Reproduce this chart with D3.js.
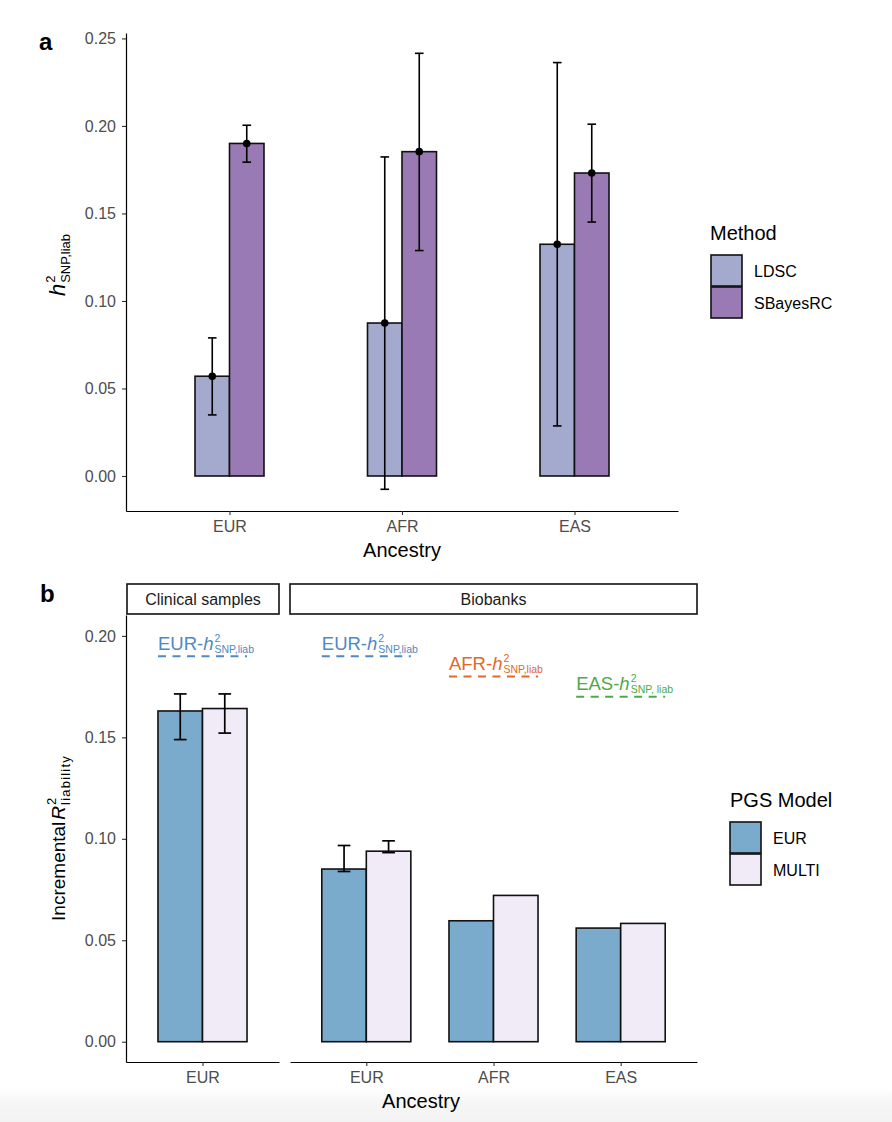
<!DOCTYPE html>
<html>
<head>
<meta charset="utf-8">
<script src="https://cdn.jsdelivr.net/npm/d3@7"></script>
<style>
  html, body { margin: 0; padding: 0; background: #fff; }
  svg { display: block; font-family: "Liberation Sans", Arial, Helvetica, sans-serif; }
</style>
</head>
<body>
<svg id="chart" width="892" height="1122"></svg>
<script>
// ---------------- DATA ----------------
// Panel a
const ancestriesA = ["EUR", "AFR", "EAS"];
const methods = ["LDSC", "SBayesRC"];
const ldscEst = [0.057, 0.0874, 0.1324];
const ldscLo  = [0.0349, -0.0076, 0.0286];
const ldscHi  = [0.0789, 0.1823, 0.2362];
const sbrcEst = [0.190, 0.1853, 0.1731];
const sbrcLo  = [0.1793, 0.1288, 0.1451];
const sbrcHi  = [0.2004, 0.2415, 0.2010];
const ticksA  = [0.00, 0.05, 0.10, 0.15, 0.20, 0.25];

// Panel b
const facetNames   = ["Clinical samples", "Biobanks"];
const clinicalAnc  = ["EUR"];
const biobankAnc   = ["EUR", "AFR", "EAS"];
const pgsModels    = ["EUR", "MULTI"];
const clinEur      = [0.1630];
const clinEurLo    = [0.1489];
const clinEurHi    = [0.1714];
const clinMulti    = [0.1642];
const clinMultiLo  = [0.1521];
const clinMultiHi  = [0.1714];
const bioEur       = [0.0851, 0.0596, 0.0560];
const bioEurLo     = [0.0839, null, null];
const bioEurHi     = [0.0967, null, null];
const bioMulti     = [0.0939, 0.0721, 0.0583];
const bioMultiLo   = [0.0932, null, null];
const bioMultiHi   = [0.0990, null, null];
const clinRefH2    = [0.190];
const bioRefH2     = [0.190, 0.180, 0.170];
const refLabelPrefix = ["EUR-", "AFR-", "EAS-"];
const refLabelSub    = ["SNP,liab", "SNP,liab", "SNP, liab"];
const ticksB  = [0.00, 0.05, 0.10, 0.15, 0.20];

// ---------------- STYLE ----------------
const methodColors = { LDSC: "#A3AACD", SBayesRC: "#9A7AB4" };
const pgsColors = { EUR: "#7AABCD", MULTI: "#F0EBF6" };
const refColors = ["#4E89C4", "#E2692B", "#4DAA4A"];
const tickColor = "#4d4d4d";
const font = '"Liberation Sans", Arial, Helvetica, sans-serif';

const svg = d3.select("#chart");

// subtle gray band at the bottom of the picture
const defs = svg.append("defs");
const grad = defs.append("linearGradient").attr("id", "band").attr("x1", 0).attr("y1", 0).attr("x2", 0).attr("y2", 1);
grad.append("stop").attr("offset", "0%").attr("stop-color", "#ffffff");
grad.append("stop").attr("offset", "40%").attr("stop-color", "#f6f6f6");
grad.append("stop").attr("offset", "100%").attr("stop-color", "#f3f3f3");
svg.append("rect").attr("x", 0).attr("y", 1088).attr("width", 892).attr("height", 34).attr("fill", "url(#band)");

// helper: math-like label with prefix, italic base, stacked sup/sub
function mathText(parent, o) {
  const g = parent.append("g").attr("transform", `translate(${o.x},${o.y}) rotate(${o.rotate || 0})`);
  const inner = g.append("g");
  let w = 0;
  if (o.prefix) {
    const t = inner.append("text").attr("x", 0).attr("y", 0).attr("font-size", o.size).attr("fill", o.color).text(o.prefix);
    w += t.node().getComputedTextLength() + (o.gap || 0);
  }
  const b = inner.append("text").attr("x", w).attr("y", 0).attr("font-size", o.size).attr("font-style", "italic").attr("fill", o.color).text(o.base);
  w += b.node().getComputedTextLength() + 1;
  const sp = inner.append("text").attr("x", w).attr("y", -o.supShift).attr("font-size", o.scriptSize).attr("fill", o.color).text(o.sup);
  const sb = inner.append("text").attr("x", w).attr("y", o.subShift).attr("font-size", o.scriptSize).attr("fill", o.color)
    .attr("letter-spacing", o.subSpacing || 0).text(o.sub);
  w += Math.max(sp.node().getComputedTextLength(), sb.node().getComputedTextLength());
  if (o.anchor === "middle") inner.attr("transform", `translate(${-w / 2},0)`);
  return g;
}

function styleAxis(g) {
  g.select(".domain").attr("stroke", "#000").attr("stroke-width", 1.2);
  g.selectAll(".tick line").attr("stroke", "#333").attr("stroke-width", 1.1);
  g.selectAll(".tick text").attr("fill", tickColor).attr("font-size", 16).attr("font-family", font);
}

// =============== PANEL A ===============
const yA = d3.scaleLinear().domain([-0.02, 0.2531]).range([511, 33]);
const xA = d3.scalePoint().domain(ancestriesA).range([126, 678]).padding(0.6);
const bwA = xA.step() * 0.2;
const capA = xA.step() * 0.05;

const dataA = [];
ancestriesA.forEach((a, i) => {
  dataA.push({ anc: a, method: "LDSC", est: ldscEst[i], lo: ldscLo[i], hi: ldscHi[i], off: -1 });
  dataA.push({ anc: a, method: "SBayesRC", est: sbrcEst[i], lo: sbrcLo[i], hi: sbrcHi[i], off: 0 });
});

const gA = svg.append("g");
gA.selectAll("rect.bar").data(dataA).join("rect")
  .attr("class", "bar")
  .attr("x", d => xA(d.anc) + d.off * bwA)
  .attr("width", bwA)
  .attr("y", d => yA(d.est))
  .attr("height", d => yA(0) - yA(d.est))
  .attr("fill", d => methodColors[d.method])
  .attr("stroke", "#111").attr("stroke-width", 1.6);

const errA = gA.selectAll("g.err").data(dataA).join("g").attr("class", "err")
  .attr("transform", d => `translate(${xA(d.anc) + d.off * bwA + bwA / 2},0)`);
errA.append("line").attr("x1", 0).attr("x2", 0).attr("y1", d => yA(d.lo)).attr("y2", d => yA(d.hi)).attr("stroke", "#000").attr("stroke-width", 1.6);
errA.append("line").attr("x1", -capA / 2).attr("x2", capA / 2).attr("y1", d => yA(d.hi)).attr("y2", d => yA(d.hi)).attr("stroke", "#000").attr("stroke-width", 1.6);
errA.append("line").attr("x1", -capA / 2).attr("x2", capA / 2).attr("y1", d => yA(d.lo)).attr("y2", d => yA(d.lo)).attr("stroke", "#000").attr("stroke-width", 1.6);
errA.append("circle").attr("cx", 0).attr("cy", d => yA(d.est)).attr("r", 3.8).attr("fill", "#000");

const yAxA = svg.append("g").attr("transform", "translate(126,0)")
  .call(d3.axisLeft(yA).tickValues(ticksA).tickFormat(d3.format(".2f")).tickSize(4).tickSizeOuter(0).tickPadding(6));
styleAxis(yAxA);
const xAxA = svg.append("g").attr("transform", "translate(0,511)")
  .call(d3.axisBottom(xA).tickSize(4).tickSizeOuter(0).tickPadding(6));
styleAxis(xAxA);

svg.append("text").attr("x", 402).attr("y", 556.5).attr("text-anchor", "middle").attr("font-size", 20).attr("fill", "#000").text("Ancestry");

mathText(svg, { x: 65, y: 265, rotate: -90, anchor: "middle", size: 22, scriptSize: 13, color: "#000",
  base: "h", sup: "2", sub: "SNP,liab", supShift: 10, subShift: 5 });

svg.append("text").attr("x", 39).attr("y", 50).attr("font-size", 24).attr("font-weight", "bold").text("a");

// legend A
svg.append("text").attr("x", 710).attr("y", 240).attr("font-size", 20).text("Method");
const legA = svg.append("g").selectAll("g").data(methods).join("g")
  .attr("transform", (d, i) => `translate(711,${255 + i * 32})`);
legA.append("rect").attr("width", 31).attr("height", 31).attr("fill", d => methodColors[d]).attr("stroke", "#111").attr("stroke-width", 1.6);
legA.append("text").attr("x", 43).attr("y", 16).attr("dy", "0.36em").attr("font-size", 16).text(d => d);

// =============== PANEL B ===============
const yB = d3.scaleLinear().domain([-0.01, 0.2103]).range([1062, 615]);
const xClin = d3.scalePoint().domain(clinicalAnc).range([126, 279]).padding(0.6);
const xBio = d3.scalePoint().domain(biobankAnc).range([290, 697]).padding(0.6);
const bwB = xBio.step() * 0.35;
const capB = xBio.step() * 0.1;

// strips
const strips = [{ name: facetNames[0], x0: 127, x1: 279 }, { name: facetNames[1], x0: 290, x1: 697 }];
const stripG = svg.append("g").selectAll("g").data(strips).join("g");
stripG.append("rect").attr("x", d => d.x0).attr("y", 584).attr("width", d => d.x1 - d.x0).attr("height", 30)
  .attr("fill", "#fff").attr("stroke", "#111").attr("stroke-width", 1.6);
stripG.append("text").attr("x", d => (d.x0 + d.x1) / 2).attr("y", 599).attr("dy", "0.36em").attr("text-anchor", "middle")
  .attr("font-size", 16).attr("fill", "#1a1a1a").text(d => d.name);

const dataB = [];
clinicalAnc.forEach((a, i) => {
  dataB.push({ sc: xClin, anc: a, model: "EUR", est: clinEur[i], lo: clinEurLo[i], hi: clinEurHi[i], off: -1 });
  dataB.push({ sc: xClin, anc: a, model: "MULTI", est: clinMulti[i], lo: clinMultiLo[i], hi: clinMultiHi[i], off: 0 });
});
biobankAnc.forEach((a, i) => {
  dataB.push({ sc: xBio, anc: a, model: "EUR", est: bioEur[i], lo: bioEurLo[i], hi: bioEurHi[i], off: -1 });
  dataB.push({ sc: xBio, anc: a, model: "MULTI", est: bioMulti[i], lo: bioMultiLo[i], hi: bioMultiHi[i], off: 0 });
});

const gB = svg.append("g");
gB.selectAll("rect.bar").data(dataB).join("rect")
  .attr("class", "bar")
  .attr("x", d => d.sc(d.anc) + d.off * bwB)
  .attr("width", bwB)
  .attr("y", d => yB(d.est))
  .attr("height", d => yB(0) - yB(d.est))
  .attr("fill", d => pgsColors[d.model])
  .attr("stroke", "#111").attr("stroke-width", 1.6);

const errB = gB.selectAll("g.err").data(dataB.filter(d => d.lo !== null)).join("g").attr("class", "err")
  .attr("transform", d => `translate(${d.sc(d.anc) + d.off * bwB + bwB / 2},0)`);
errB.append("line").attr("x1", 0).attr("x2", 0).attr("y1", d => yB(d.lo)).attr("y2", d => yB(d.hi)).attr("stroke", "#000").attr("stroke-width", 1.7);
errB.append("line").attr("x1", -capB / 2).attr("x2", capB / 2).attr("y1", d => yB(d.hi)).attr("y2", d => yB(d.hi)).attr("stroke", "#000").attr("stroke-width", 1.7);
errB.append("line").attr("x1", -capB / 2).attr("x2", capB / 2).attr("y1", d => yB(d.lo)).attr("y2", d => yB(d.lo)).attr("stroke", "#000").attr("stroke-width", 1.7);

// reference h2 lines with labels
const refs = [];
clinicalAnc.forEach((a, i) => refs.push({ sc: xClin, anc: a, v: clinRefH2[i], k: 0 }));
biobankAnc.forEach((a, i) => refs.push({ sc: xBio, anc: a, v: bioRefH2[i], k: i }));
const gR = svg.append("g");
refs.forEach(r => {
  const x0 = r.sc(r.anc) - bwB, x1 = r.sc(r.anc) + bwB;
  gR.append("line").attr("x1", x0).attr("x2", x1).attr("y1", yB(r.v)).attr("y2", yB(r.v))
    .attr("stroke", refColors[r.k]).attr("stroke-width", 2).attr("stroke-dasharray", "8,6.5");
  mathText(gR, { x: x0, y: yB(r.v) - 6.5, rotate: 0, anchor: "start", size: 18.5, scriptSize: 10.5, color: refColors[r.k],
    prefix: refLabelPrefix[r.k], base: "h", sup: "2", sub: refLabelSub[r.k], supShift: 8, subShift: 3 });
});

const yAxB = svg.append("g").attr("transform", "translate(126,0)")
  .call(d3.axisLeft(yB).tickValues(ticksB).tickFormat(d3.format(".2f")).tickSize(4).tickSizeOuter(0).tickPadding(6));
styleAxis(yAxB);
const xAxB1 = svg.append("g").attr("transform", "translate(0,1062)")
  .call(d3.axisBottom(xClin).tickSize(4).tickSizeOuter(0).tickPadding(6));
styleAxis(xAxB1);
const xAxB2 = svg.append("g").attr("transform", "translate(0,1062)")
  .call(d3.axisBottom(xBio).tickSize(4).tickSizeOuter(0).tickPadding(6));
styleAxis(xAxB2);

svg.append("text").attr("x", 421).attr("y", 1108).attr("text-anchor", "middle").attr("font-size", 20).attr("fill", "#000").text("Ancestry");

mathText(svg, { x: 65, y: 838, rotate: -90, anchor: "middle", size: 19, scriptSize: 13, color: "#000",
  prefix: "Incremental", gap: 2, base: "R", sup: "2", sub: "liability", supShift: 9, subShift: 5, subSpacing: 1.2 });

svg.append("text").attr("x", 40).attr("y", 602).attr("font-size", 24).attr("font-weight", "bold").text("b");

// legend B
svg.append("text").attr("x", 730).attr("y", 807).attr("font-size", 20).text("PGS Model");
const legB = svg.append("g").selectAll("g").data(pgsModels).join("g")
  .attr("transform", (d, i) => `translate(730,${822 + i * 32})`);
legB.append("rect").attr("width", 31).attr("height", 31).attr("fill", d => pgsColors[d]).attr("stroke", "#111").attr("stroke-width", 1.6);
legB.append("text").attr("x", 43).attr("y", 16).attr("dy", "0.36em").attr("font-size", 16).text(d => d);
</script>
</body>
</html>
